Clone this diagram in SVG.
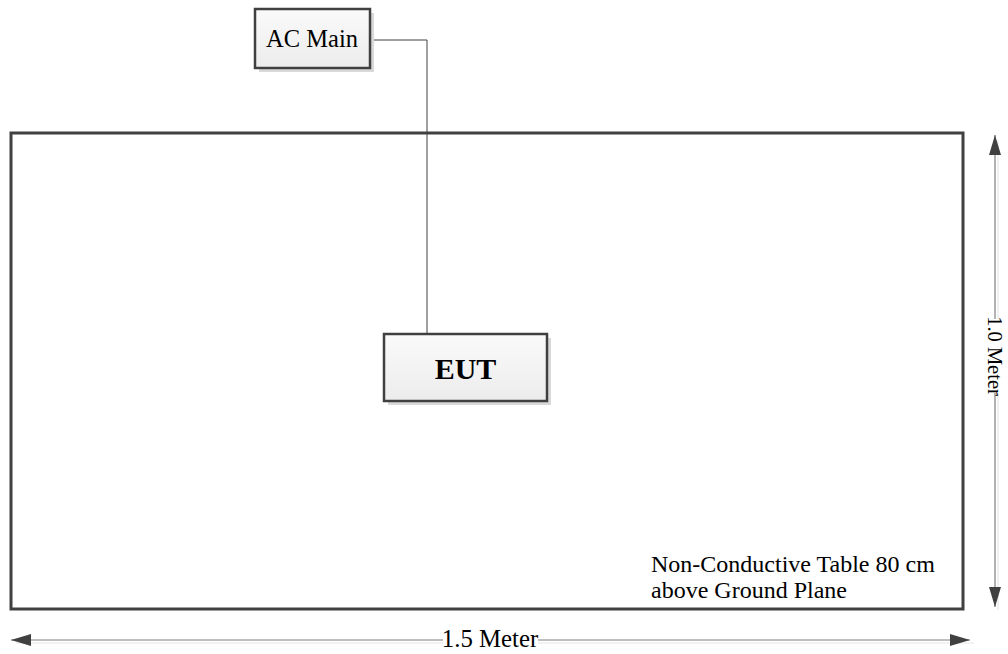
<svg xmlns="http://www.w3.org/2000/svg" width="1008" height="654" viewBox="0 0 1008 654">
<defs>
<style>
.box{fill:url(#g);stroke:#404040;stroke-width:2.5}
.sh{fill:#d9d9d9}
.t{font-family:"Liberation Serif","Times New Roman",serif;fill:#000}
.wire{fill:none;stroke:#404040;stroke-width:1}
.dim{fill:none;stroke:#7f7f7f;stroke-width:1.2}
.dimsh{fill:none;stroke:#e6e6e6;stroke-width:1.2}
</style>
<linearGradient id="g" x1="0" y1="0" x2="0" y2="1">
<stop offset="0" stop-color="#fafafa"/>
<stop offset="1" stop-color="#ececec"/>
</linearGradient>
<marker id="ah" viewBox="0 0 20 12" refX="20" refY="6" markerWidth="20" markerHeight="12" markerUnits="userSpaceOnUse" orient="auto-start-reverse">
<path d="M0,0 L20,6 L0,12 Z" fill="#404040"/>
</marker>
</defs>
<g id="table">
<rect x="11" y="133" width="952" height="476" fill="#fff" stroke="#404040" stroke-width="3"/>
<text class="t" x="651" y="572" font-size="24">Non-Conductive Table 80 cm</text>
<text class="t" x="651" y="598" font-size="24">above Ground Plane</text>
</g>
<g id="connectors">
<polyline class="wire" points="370,40 427,40 427,334"/>
</g>
<g id="ac-main">
<rect class="sh" x="259" y="13" width="115" height="59"/>
<rect class="box" x="255" y="9" width="115" height="59"/>
<text class="t" x="312" y="47" font-size="24.5" text-anchor="middle">AC Main</text>
</g>
<g id="eut">
<rect class="sh" x="388" y="338" width="163" height="67"/>
<rect class="box" x="384" y="334" width="163" height="67"/>
<text class="t" x="465.5" y="379" font-size="30" font-weight="bold" text-anchor="middle">EUT</text>
</g>
<g id="dimensions">
<line class="dimsh" x1="998" y1="140" x2="998" y2="610"/>
<line class="dim" x1="995" y1="135" x2="995" y2="607" marker-start="url(#ah)" marker-end="url(#ah)"/>
<rect x="985" y="319" width="20" height="74" fill="#fff"/>
<text class="t" x="995" y="356" font-size="20.5" text-anchor="middle" transform="rotate(90 995 356)" dy="7">1.0 Meter</text>
<line class="dimsh" x1="16" y1="643" x2="974" y2="643"/>
<line class="dim" x1="11" y1="640" x2="970" y2="640" marker-start="url(#ah)" marker-end="url(#ah)"/>
<rect x="443" y="630" width="95" height="22" fill="#fff"/>
<text class="t" x="490" y="647" font-size="24.8" text-anchor="middle">1.5 Meter</text>
</g>
</svg>
